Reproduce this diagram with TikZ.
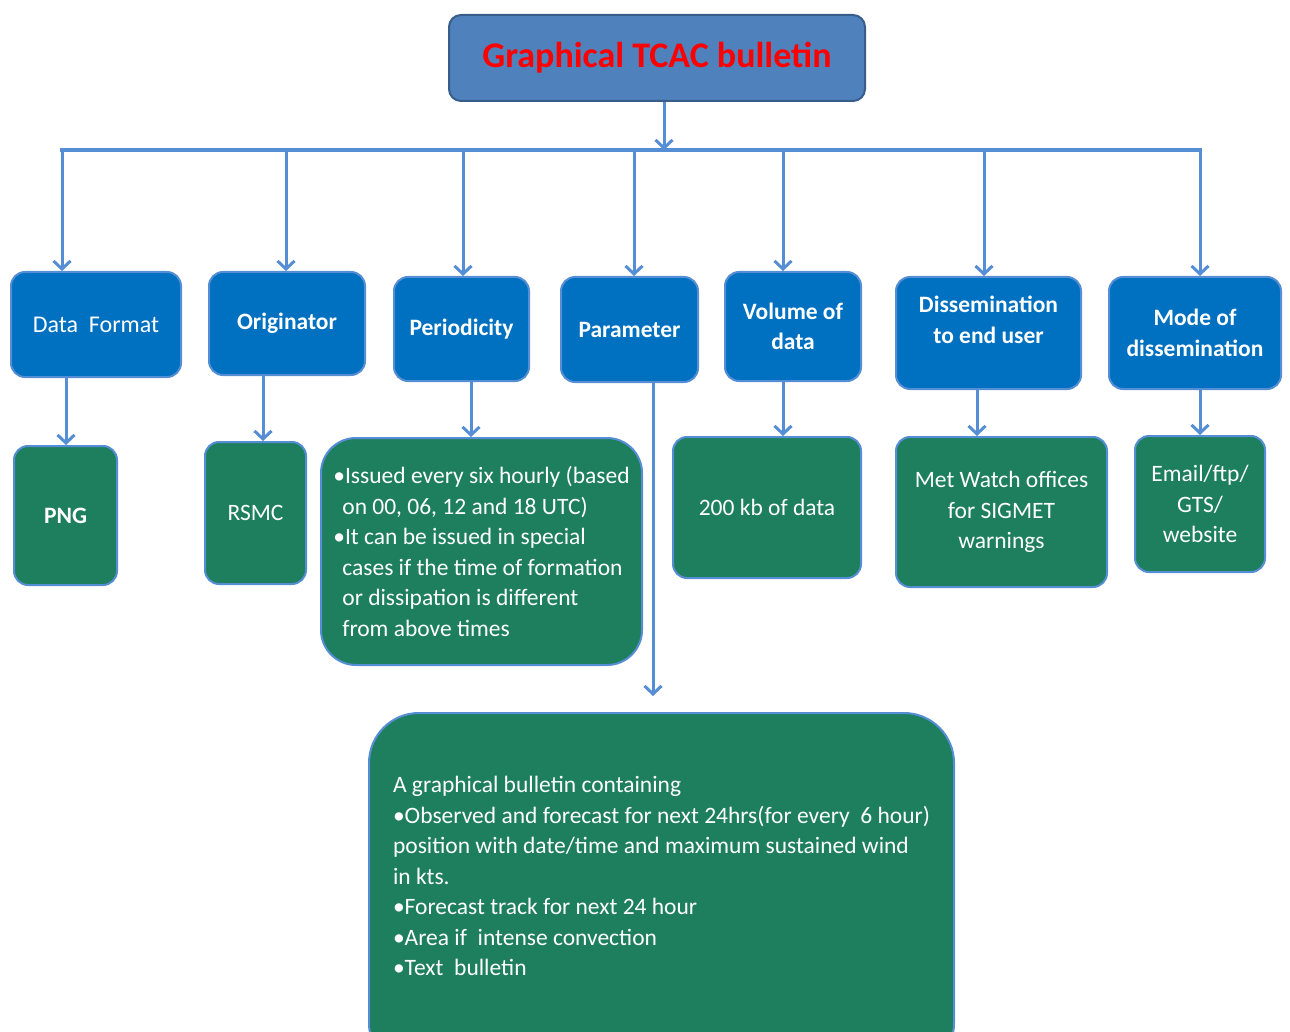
\documentclass[tikz,border=0pt]{standalone}
\usepackage{fontspec}
\setmainfont{Carlito}
\usetikzlibrary{arrows.meta}
\definecolor{cHead}  {HTML}{4F81BD}
\definecolor{cHeadLn}{HTML}{385D8A}
\definecolor{cCat}   {HTML}{0070C0}
\definecolor{cLeaf}  {HTML}{1E7F5E}
\definecolor{cLine}  {HTML}{558ED5}
\tikzset{
  box/.style  ={draw=cLine,line width=2pt,rounded corners=14pt,align=center,
                text=white,inner sep=0pt,font=\fontsize{23.5}{30.5}\selectfont},
  cat/.style  ={box,fill=cCat,font=\fontsize{23.5}{30.5}\selectfont\bfseries},
  leaf/.style ={box,fill=cLeaf},
  link/.style ={draw=cLine,line width=3pt,-{Straight Barb[length=8pt,width=17pt]}},
  bus/.style  ={draw=cLine,line width=3.5pt,line cap=rect},
}

\begin{document}
\begin{tikzpicture}[x=1pt, y=1pt]
\useasboundingbox (0,0) rectangle (1290,-1032);

\node[draw=cHeadLn,line width=2pt,fill=cHead,rounded corners=12pt,
      minimum width=416,minimum height=86,text=red,
      font=\fontsize{36}{40}\selectfont\bfseries] (title) at (657,-58)
  {Graphical TCAC bulletin};

% --- first row: what the bulletin is described by -----------------------
\node[cat,minimum width=170,minimum height=105,font=\fontsize{24}{30.5}\selectfont]
  (fmt)   at (96,-324.5)    {Data~ Format};
\node[cat,minimum width=156,minimum height=103] (orig)  at (287,-323.5)   {Originator};
\node[cat,minimum width=135,minimum height=104] (per)   at (461.5,-329)   {Periodicity};
\node[cat,minimum width=137,minimum height=105] (param) at (629.5,-329.5) {Parameter};
\node[cat,minimum width=136,minimum height=109,text depth=0pt]
  (vol)   at (793,-326.5)   {Volume of\\data};
\node[cat,minimum width=185,minimum height=112,text depth=27pt]
  (diss)  at (988.5,-333)   {Dissemination\\to end user};
\node[cat,minimum width=172,minimum height=112]
  (mode)  at (1195,-333)    {Mode of\\dissemination};

% --- bus from the title down to every box --------------------------------
\coordinate (b1) at (62,-150);
\coordinate (b2) at (286,-150);
\coordinate (b3) at (463,-150);
\coordinate (b4) at (634,-150);
\coordinate (b5) at (783,-150);
\coordinate (b6) at (984,-150);
\coordinate (b7) at (1200,-150);
\coordinate (t0) at ([xshift=7pt]title.south);
\draw[link] (t0) -- (t0 |- b1);
\draw[bus] (b1) -- (b7);
\draw[link] (b1) -- (b1 |- fmt.north);
\draw[link] (b2) -- (b2 |- orig.north);
\draw[link] (b3) -- (b3 |- per.north);
\draw[link] (b4) -- (b4 |- param.north);
\draw[link] (b5) -- (b5 |- vol.north);
\draw[link] (b6) -- (b6 |- diss.north);
\draw[link] (b7) -- (b7 |- mode.north);

% --- second row: the answers ---------------------------------------------
\node[leaf,minimum width=103,minimum height=139,font=\fontsize{23.5}{30.5}\selectfont\bfseries]
  (png)  at (65.5,-515.5) {PNG};
\node[leaf,minimum width=101,minimum height=142] (rsmc) at (255.5,-513) {RSMC};
\node[leaf,align=left,minimum width=321,minimum height=227,rounded corners=35pt]
  (when) at (481.5,-551.5)
  {•Issued every six hourly (based\\
   \hspace*{9pt}on 00, 06, 12 and 18 UTC)\\
   •It can be issued in special\\
   \hspace*{9pt}cases if the time of formation\\
   \hspace*{9pt}or dissipation is different\\
   \hspace*{9pt}from above times};
\node[leaf,minimum width=188,minimum height=141] (size) at (767,-507.5) {200 kb of data};
\node[leaf,minimum width=211,minimum height=150] (mwo)  at (1001.5,-512)
  {Met Watch offices\\for SIGMET\\warnings};
\node[leaf,minimum width=130,minimum height=136] (mail) at (1200,-504)
  {Email/ftp/\\GTS/\\website};
\node[leaf,align=left,minimum width=585,minimum height=360,rounded corners=50pt,
      text depth=34pt] (prod) at (661.5,-893)
  {A graphical bulletin containing\\
   •Observed and forecast for next 24hrs(for every~ 6 hour)\\
   position with date/time and maximum sustained wind\\
   in kts.\\
   •Forecast track for next 24 hour\\
   •Area if~ intense convection\\
   •Text~ bulletin};

\coordinate (d1) at ([xshift=-30pt]fmt.south);
\coordinate (d2) at ([xshift=-24pt]orig.south);
\coordinate (d3) at ([xshift=9.5pt]per.south);
\coordinate (d4) at ([xshift=23.5pt]param.south);
\coordinate (d5) at ([xshift=-10pt]vol.south);
\coordinate (d6) at ([xshift=-11.5pt]diss.south);
\coordinate (d7) at ([xshift=5pt]mode.south);
\draw[link] (d1) -- (d1 |- png.north);
\draw[link] (d2) -- (d2 |- rsmc.north);
\draw[link] (d3) -- (d3 |- when.north);
\draw[link,shorten >=16pt] (d4) -- (d4 |- prod.north);
\draw[link] (d5) -- (d5 |- size.north);
\draw[link] (d6) -- (d6 |- mwo.north);
\draw[link] (d7) -- (d7 |- mail.north);

\end{tikzpicture}
\end{document}
